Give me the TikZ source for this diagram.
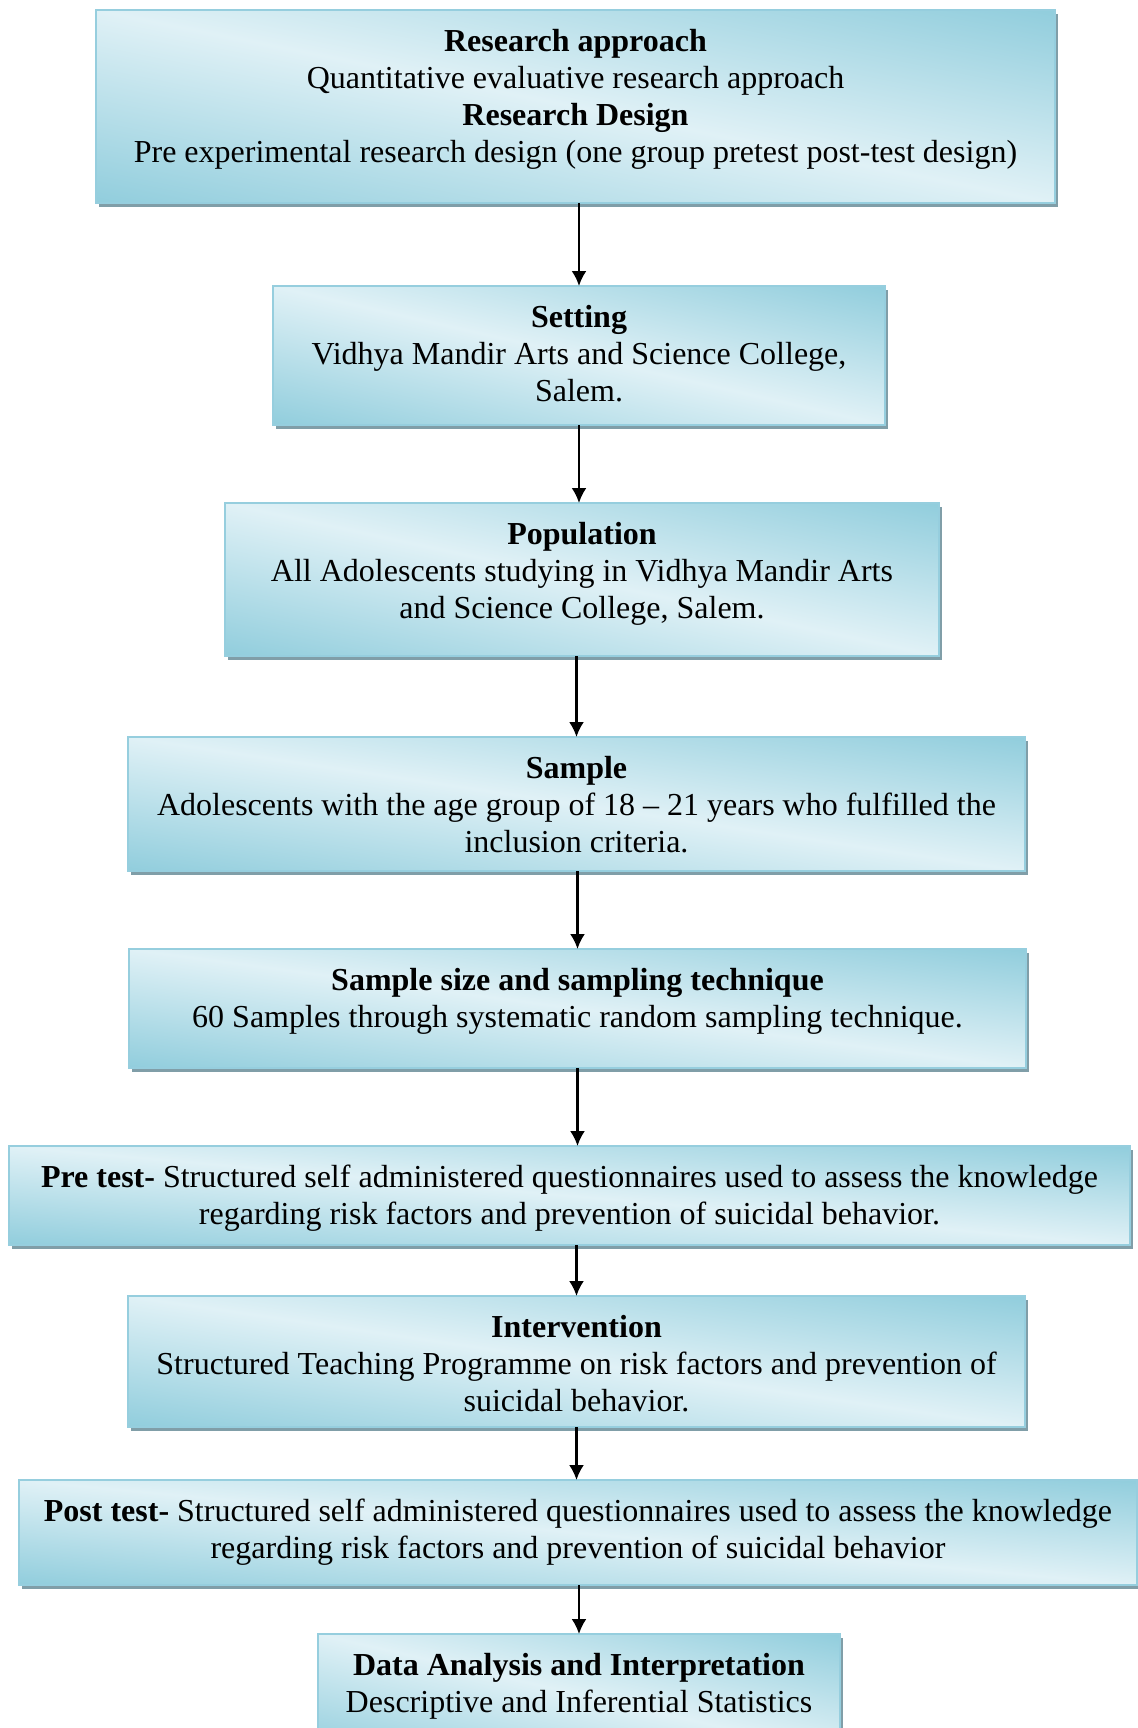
\documentclass[tikz,border=0pt]{standalone}
\usepackage{fontspec}
\setmainfont{Liberation Serif}
\usepackage{tikz}
\usetikzlibrary{arrows.meta,shadows}

\definecolor{boxline}{RGB}{150,206,222}
\definecolor{shadowgray}{RGB}{128,158,168}
% light along the top-left/bottom-right diagonal, dark towards the other corners
\pgfdeclarefunctionalshading{boxshade}{\pgfpointorigin}{\pgfpoint{100bp}{100bp}}{}{
  exch add 100 sub abs 50 div
  dup -0.31 mul 0.878 add exch
  dup -0.14 mul 0.945 add exch
  -0.10 mul 0.965 add}
\newcommand{\flowtext}[3]{\parbox[t][#2][t]{#1}{\centering\strut #3}}

\begin{document}
\begin{tikzpicture}[x=0.5pt,y=-0.5pt,>={Latex[length=7.5pt,width=7.5pt]}]
\tikzstyle{flowbox}=[draw=boxline,line width=0.6pt,shading=boxshade,
  drop shadow={shadow xshift=1.5pt,shadow yshift=-2.2pt,fill=shadowgray,opacity=1},
  anchor=north,inner xsep=0pt,inner ysep=7.8pt,outer sep=0pt,
  font=\fontsize{16}{18.5}\selectfont];
\tikzstyle{flowarrow}=[->,line width=1.15pt];
\clip (0,0) rectangle (1138,1728);
% boxes
    \node[flowbox] (approach) at (575.5,10) {\flowtext{479.5pt}{80.9pt}{\textbf{Research approach}\\
      Quantitative evaluative research approach\\ \textbf{Research Design}\\
      Pre experimental research design (one group pretest post-test design)}};
    \node[flowbox] (setting) at (579,286) {\flowtext{306pt}{53.9pt}{\textbf{Setting}\\
      Vidhya Mandir Arts and Science College,\\ Salem.}};
    \node[flowbox] (population) at (582,503) {\flowtext{357pt}{60.9pt}{\textbf{Population}\\
      All Adolescents studying in Vidhya Mandir Arts\\ and Science College, Salem.}};
    \node[flowbox] (sample) at (576.5,737) {\flowtext{448.5pt}{51.4pt}{\textbf{Sample}\\
      Adolescents with the age group of 18 -- 21 years who fulfilled the\\ inclusion criteria.}};
    \node[flowbox] (size) at (577.5,949) {\flowtext{448.5pt}{43.9pt}{\textbf{Sample size and sampling technique}\\
      60 Samples through systematic random sampling technique.}};
    \node[flowbox] (pretest) at (569.5,1146) {\flowtext{560.5pt}{33.9pt}{\textbf{Pre test-} Structured self administered questionnaires used to assess the knowledge\\
      regarding risk factors and prevention of suicidal behavior.}};
    \node[flowbox] (intervention) at (576.5,1296) {\flowtext{448.5pt}{49.9pt}{\textbf{Intervention}\\
      Structured Teaching Programme on risk factors and prevention of\\ suicidal behavior.}};
    \node[flowbox] (posttest) at (578,1480) {\flowtext{559pt}{36.9pt}{\textbf{Post test-} Structured self administered questionnaires used to assess the knowledge\\
      regarding risk factors and prevention of suicidal behavior}};
    \node[flowbox] (analysis) at (579,1634) {\flowtext{261pt}{44.4pt}{\textbf{Data Analysis and Interpretation}\\
      Descriptive and Inferential Statistics}};
% arrows
    \draw[flowarrow] (approach.south -| setting.north) -- (setting.north);
    \draw[flowarrow] (setting.south) -- (setting.south |- population.north);
    \draw[flowarrow] (population.south -| sample.north) -- (sample.north);
    \draw[flowarrow] (sample.south -| size.north) -- (size.north);
    \draw[flowarrow] (size.south) -- (size.south |- pretest.north);
    \draw[flowarrow] (pretest.south -| intervention.north) -- (intervention.north);
    \draw[flowarrow] (intervention.south) -- (intervention.south |- posttest.north);
    \draw[flowarrow] (posttest.south -| analysis.north) -- (analysis.north);
\end{tikzpicture}
\end{document}
